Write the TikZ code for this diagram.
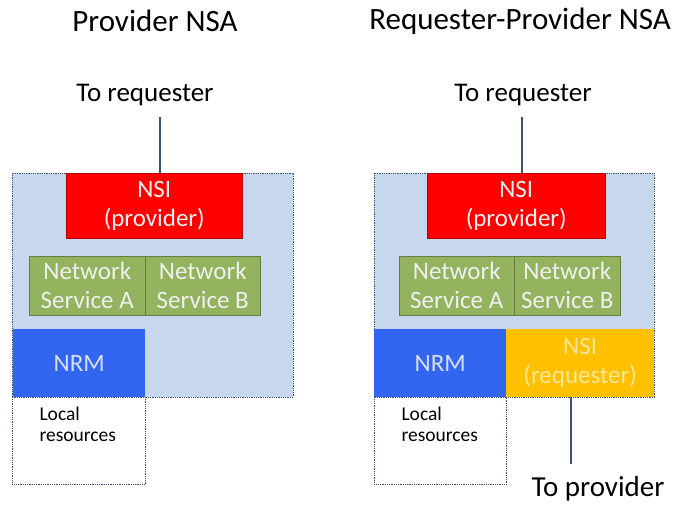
\documentclass[tikz,border=0pt]{standalone}
\usepackage{fontspec}
\setmainfont{Carlito}
\definecolor{bgblue}{HTML}{C6D7EE}
\definecolor{nsired}{HTML}{FF0000}
\definecolor{nsgreen}{HTML}{93B35E}
\definecolor{nrmblue}{HTML}{3366F0}
\definecolor{reqorange}{HTML}{FFC000}
\definecolor{linecol}{HTML}{3F5170}
\begin{document}
\begin{tikzpicture}[x=1pt,y=-1pt,
  outerbox/.style={fill=bgblue,draw=linecol,densely dotted,line width=0.8pt},
  nsibox/.style={fill=nsired,draw=red!70!black,line width=0.5pt},
  greenbox/.style={fill=nsgreen,draw=nsgreen!70!black,line width=0.5pt},
  nrmbox/.style={fill=nrmblue,draw=none},
  reqbox/.style={fill=reqorange,draw=none},
  localbox/.style={fill=white,draw=linecol,densely dotted,line width=0.8pt},
  boxlabel/.style={font=\fontsize{25}{29}\selectfont,text=white!88!gray,align=center},
  smalllabel/.style={font=\fontsize{19.5}{21}\selectfont,align=left,anchor=north west},
  caption/.style={font=\fontsize{31}{35}\selectfont},
  tolabel/.style={font=\fontsize{27}{31}\selectfont},
  conn/.style={draw=linecol,line width=2.2pt}]
\useasboundingbox (0,0) rectangle (674,504);

% ---------- Left panel ----------
\node[caption] (t1) at (155,21) {Provider NSA};
\node[tolabel] (req1) at (145,95) {To requester};
\path[outerbox] (12,173) rectangle (293,397);
\node[nsibox,minimum width=176,minimum height=65,inner sep=0,anchor=north west] (nsi1) at (66,173) {};
\node[boxlabel] at (nsi1) {NSI\\(provider)};
\node[greenbox,minimum width=116,minimum height=59,inner sep=0,anchor=north west] (gA1) at (29,256) {};
\node[boxlabel] at (gA1) {Network\\Service A};
\node[greenbox,minimum width=115,minimum height=59,inner sep=0,anchor=north west] (gB1) at (145,256) {};
\node[boxlabel] at (gB1) {Network\\Service B};
\node[nrmbox,minimum width=132,minimum height=68,inner sep=0,anchor=north west] (nrm1) at (13,329) {};
\node[boxlabel,text=nrmblue!20!white] at (nrm1) {NRM};
\node[localbox,minimum width=133,minimum height=87,inner sep=0,anchor=north west] (loc1) at (12,397) {};
\node[smalllabel] at (36,403) {Local\\resources};
\coordinate (c1) at (160,117);
\draw[conn] (c1) -- (nsi1.north -| c1);

% ---------- Right panel ----------
\node[caption] (t2) at (520,21) {Requester-Provider NSA};
\node[tolabel] (req2) at (523,95) {To requester};
\path[outerbox] (374,173) rectangle (654,397);
\node[nsibox,minimum width=178,minimum height=65,inner sep=0,anchor=north west] (nsi2) at (427,173) {};
\node[boxlabel] at (nsi2) {NSI\\(provider)};
\node[greenbox,minimum width=115,minimum height=59,inner sep=0,anchor=north west] (gA2) at (399,256) {};
\node[boxlabel] at (gA2) {Network\\Service A};
\node[greenbox,minimum width=106,minimum height=59,inner sep=0,anchor=north west] (gB2) at (514,256) {};
\node[boxlabel] at (gB2) {Network\\Service B};
\node[nrmbox,minimum width=132,minimum height=68,inner sep=0,anchor=north west] (nrm2) at (374,329) {};
\node[boxlabel,text=nrmblue!20!white] at (nrm2) {NRM};
\node[reqbox,minimum width=148,minimum height=68,inner sep=0,anchor=north west] (nsireq) at (506,329) {};
\node[boxlabel,text=reqorange!40!white] at (nsireq) {NSI\\(requester)};
\node[localbox,minimum width=132,minimum height=87,inner sep=0,anchor=north west] (loc2) at (374,397) {};
\node[smalllabel] at (398,403) {Local\\resources};
\coordinate (c2) at (522,117);
\draw[conn] (c2) -- (nsi2.north -| c2);
\coordinate (c3) at (571,464);
\draw[conn] (nsireq.south -| c3) -- (c3);
\node[caption,font=\fontsize{29}{33}\selectfont] (prov) at (598,489) {To provider};
\end{tikzpicture}
\end{document}
